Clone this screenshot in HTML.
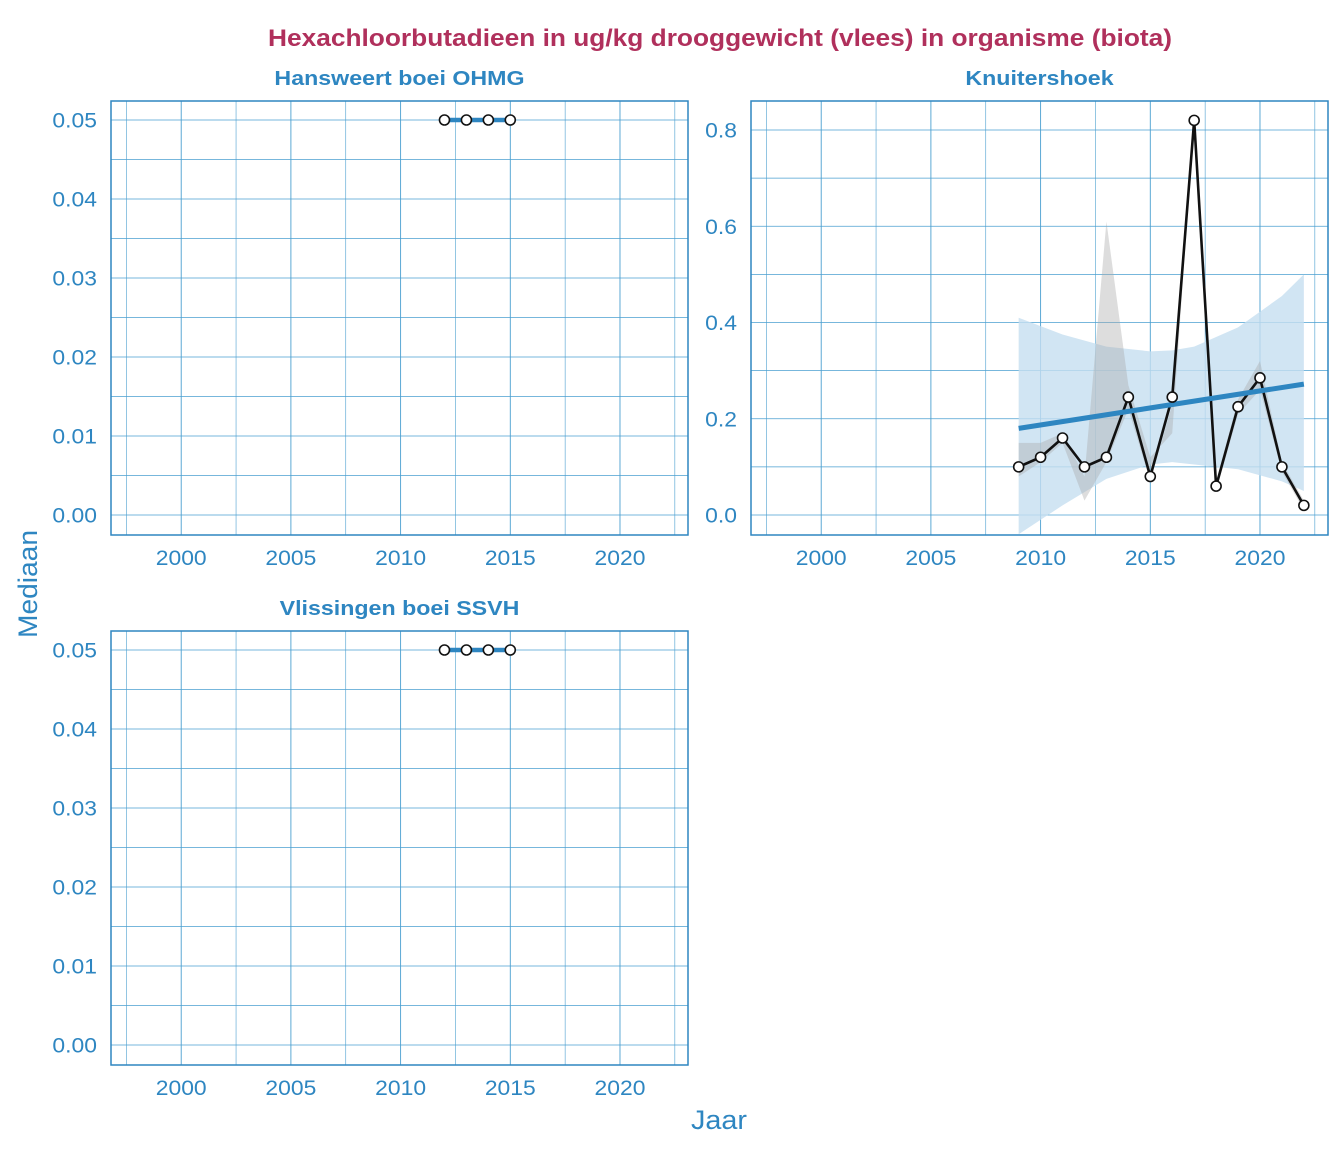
<!DOCTYPE html>
<html><head><meta charset="utf-8"><style>
body{margin:0;background:#fff}
svg{font-family:"Liberation Sans",sans-serif}
</style></head><body>
<svg id="c" width="1344" height="1152" xmlns="http://www.w3.org/2000/svg">
<text x="720" y="46" text-anchor="middle" font-size="24" font-weight="bold" fill="#b0305c" textLength="904" lengthAdjust="spacingAndGlyphs">Hexachloorbutadieen in ug/kg drooggewicht (vlees) in organisme (biota)</text>
<text x="719" y="1129" text-anchor="middle" font-size="27" fill="#2e86c1" textLength="56" lengthAdjust="spacingAndGlyphs">Jaar</text>
<text transform="translate(37,584) rotate(-90)" text-anchor="middle" font-size="27" fill="#2e86c1" textLength="108" lengthAdjust="spacingAndGlyphs">Mediaan</text>
</svg>
<script>
const hanYears=[2012,2013,2014,2015];
const hanVals=[0.05,0.05,0.05,0.05];
const vliYears=[2012,2013,2014,2015];
const vliVals=[0.05,0.05,0.05,0.05];
const knuYears=[2009,2010,2011,2012,2013,2014,2015,2016,2017,2018,2019,2020,2021,2022];
const knuVals=[0.10,0.12,0.16,0.10,0.12,0.245,0.08,0.245,0.82,0.06,0.225,0.285,0.10,0.02];
const knuTrend=[0.18,0.272];
const knuCiYears=[2009,2011,2013,2015,2016,2017,2019,2021,2022];
const knuCiUpper=[0.41,0.375,0.35,0.34,0.342,0.35,0.39,0.455,0.50];
const knuCiLower=[-0.04,0.02,0.075,0.105,0.11,0.105,0.095,0.07,0.05];
const knuBandUpper=[0.15,0.15,0.17,0.08,0.61,0.27,0.12,0.17,0.82,0.07,0.24,0.32,0.11,0.03];
const knuBandLower=[0.08,0.11,0.15,0.03,0.11,0.22,0.07,0.23,0.80,0.05,0.21,0.26,0.09,0.01];
const xTicks=[2000,2005,2010,2015,2020];
const yTicksSmall=[0,0.01,0.02,0.03,0.04,0.05];
const yTicksKnu=[0,0.2,0.4,0.6,0.8];

const svg=document.getElementById('c');
const NS='http://www.w3.org/2000/svg';
function el(t,a,p){const e=document.createElementNS(NS,t);for(const k in a)e.setAttribute(k,a[k]);(p||svg).appendChild(e);return e;}
function widen(t,f){const w=t.getComputedTextLength();t.setAttribute('textLength',w*f);t.setAttribute('lengthAdjust','spacingAndGlyphs');}

function panel(o){
  const g=el('g',{});
  
  
  const X=v=>o.x0+(v-1996.8)/(2023.1-1996.8)*(o.x1-o.x0);
  const Y=v=>o.yZero+(v)*(o.yTop-o.yZero)/o.yTopVal;
  const t=el('text',{x:(o.x0+o.x1)/2,y:o.y0-16,'text-anchor':'middle','font-size':20,'font-weight':'bold',fill:'#2e86c1'},g);
  t.textContent=o.title;
  
  
  widen(t,1.16);
  const cp='cp'+o.id;
  const cl=el('clipPath',{id:cp},g);el('rect',{x:o.x0,y:o.y0,width:o.x1-o.x0,height:o.y1-o.y0},cl);
  const gr=el('g',{'clip-path':'url(#'+cp+')'},g);
  for(let yr=1997.5;yr<2024;yr+=2.5){const xx=X(yr);el('line',{x1:xx,x2:xx,y1:o.y0,y2:o.y1,stroke:'#4a9fd0','stroke-width':yr%5==0?0.9:0.6},gr);}
  const step=o.yTicks[1]/2;
  for(let v=-step;v<=o.yTicks[o.yTicks.length-1]+step*1.5;v+=step){const yy=Y(v);el('line',{x1:o.x0,x2:o.x1,y1:yy,y2:yy,stroke:'#4a9fd0','stroke-width':0.8},gr);}
  if(o.extra)o.extra(gr,X,Y);
  const pts=o.years.map((y,i)=>X(y)+','+Y(o.vals[i])).join(' ');
  if(o.flat){const l=el('polyline',{points:pts,fill:'none',stroke:'#2e86c1','stroke-width':4.5},gr);}
  else{const l=el('polyline',{points:pts,fill:'none',stroke:'#111','stroke-width':2.6},gr);}
  if(o.after)o.after(gr,X,Y);
  o.years.forEach((y,i)=>{const c=el('circle',{cx:X(y),cy:Y(o.vals[i]),r:5,fill:'#fff',stroke:'#111','stroke-width':1.6},gr);
    });
  el('rect',{x:o.x0,y:o.y0,width:o.x1-o.x0,height:o.y1-o.y0,fill:'none',stroke:'#2e86c1','stroke-width':1.5},g);
  xTicks.forEach(v=>{const tx=el('text',{x:X(v),y:o.y1+30,'text-anchor':'middle','font-size':21,fill:'#2e86c1'},g);tx.textContent=v;
    widen(tx,1.09);});
  o.yTicks.forEach(v=>{const ty=el('text',{x:o.x0-14,y:Y(v)+7.5,'text-anchor':'end','font-size':21,fill:'#2e86c1'},g);ty.textContent=v.toFixed(o.dec);
    widen(ty,1.09);});
}
panel({id:1,name:'panel-hansweert',title:'Hansweert boei OHMG',x0:111,x1:688,y0:101,y1:535,yZero:515,yTop:120,yTopVal:0.05,yTicks:yTicksSmall,dec:2,years:hanYears,vals:hanVals,flat:true});
panel({id:2,name:'panel-vlissingen',title:'Vlissingen boei SSVH',x0:111,x1:688,y0:631,y1:1065,yZero:1045,yTop:650,yTopVal:0.05,yTicks:yTicksSmall,dec:2,years:vliYears,vals:vliVals,flat:true});
panel({id:3,name:'panel-knuitershoek',title:'Knuitershoek',x0:751,x1:1328,y0:101,y1:535,yZero:515,yTop:130,yTopVal:0.8,yTicks:yTicksKnu,dec:1,years:knuYears,vals:knuVals,
 extra:(g,X,Y)=>{
  let up=knuCiYears.map((y,i)=>X(y)+','+Y(knuCiUpper[i]));
  let lo=knuCiYears.map((y,i)=>X(y)+','+Y(knuCiLower[i])).reverse();
  const b=el('polygon',{points:up.concat(lo).join(' '),fill:'#c6dff0',opacity:0.8},g);
  
  up=knuYears.map((y,i)=>X(y)+','+Y(knuBandUpper[i]));
  lo=knuYears.map((y,i)=>X(y)+','+Y(knuBandLower[i])).reverse();
  const b2=el('polygon',{points:up.concat(lo).join(' '),fill:'#aaaaaa',opacity:0.4},g);
  
 },
 after:(g,X,Y)=>{
  const l=el('line',{x1:X(knuYears[0]),y1:Y(knuTrend[0]),x2:X(knuYears[knuYears.length-1]),y2:Y(knuTrend[1]),stroke:'#2e86c1','stroke-width':5},g);
  
 }});
</script>
</body></html>
